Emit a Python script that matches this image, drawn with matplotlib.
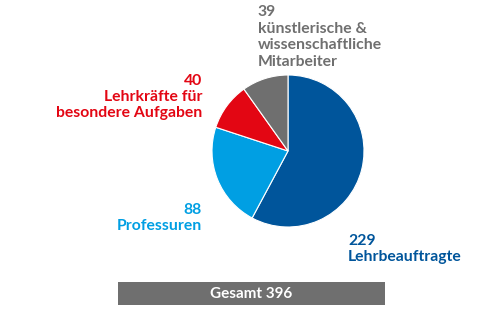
import matplotlib
matplotlib.use("Agg")
import matplotlib.pyplot as plt
from matplotlib.patches import Rectangle

# data (clockwise from 12 o'clock)
labels = ["Lehrbeauftragte", "Professuren", "Lehrkräfte für\nbesondere Aufgaben",
          "künstlerische &\nwissenschaftliche\nMitarbeiter"]
values = [229, 88, 40, 39]
colors = ["#00559b", "#009fe3", "#e30613", "#6f6f6f"]

total = sum(values)

plt.rcParams['font.family'] = ['Lato', 'DejaVu Sans']

fig = plt.figure(figsize=(5, 3.24), dpi=100)
ax = fig.add_axes([0, 0, 1, 1])

# everything laid out in pixel units of the 500x324 canvas
ax.pie(values, colors=colors, startangle=90, counterclock=False,
       center=(288, 173), radius=76,
       wedgeprops=dict(edgecolor="white", linewidth=0.8))
ax.set_xlim(0, 500)
ax.set_ylim(0, 324)
ax.set_aspect("equal")
ax.axis("off")

# label positions: (x, y, horizontal alignment)
label_pos = [(348, 75, "left"), (202, 106, "right"), (202, 227, "right"), (258, 287, "left")]
for (x, y, ha), lab, val, col in zip(label_pos, labels, values, colors):
    ax.text(x, y, f"{val}\n{lab}", ha=ha, va="center", color=col,
            fontsize=11.3, fontweight="bold", linespacing=1.22, multialignment=ha)

# total bar
ax.add_patch(Rectangle((118, 19), 267, 23, facecolor="#6f6f6f", edgecolor="none"))
ax.text(251.5, 30.5, f"Gesamt {total}", ha="center", va="center", color="white",
        fontsize=11, fontweight="bold")

plt.savefig("out.png", dpi=100)
